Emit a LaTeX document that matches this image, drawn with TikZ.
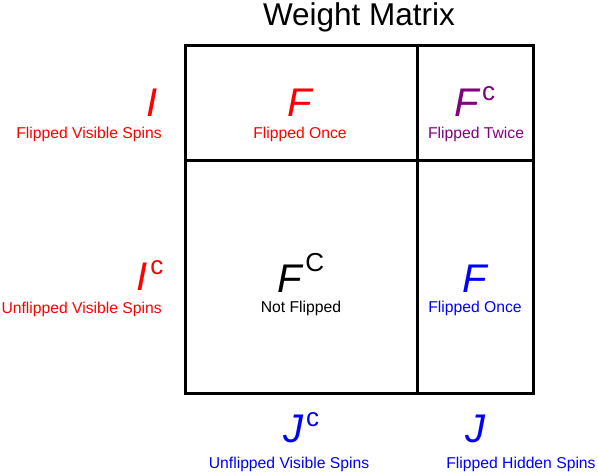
\documentclass[tikz,border=0pt]{standalone}
\usepackage{fontspec}
\setmainfont{Liberation Sans}
\usepackage{tikz}
\usetikzlibrary{positioning}

\definecolor{flipred}{RGB}{255,0,0}
\definecolor{flipblue}{RGB}{0,0,255}
\definecolor{flippurple}{RGB}{128,0,128}
\newcommand{\supc}[2][16pt]{\kern3pt\raisebox{#1}{\fontsize{26}{26}\selectfont\upshape #2}}

\begin{document}
\begin{tikzpicture}[
		x=1pt, y=-1pt,
		grid/.style={line width=3pt},
		big/.style={anchor=base, font=\fontsize{40}{40}\selectfont\itshape},
		small/.style={anchor=base, inner sep=0pt, font=\fontsize{15.7}{16}\selectfont},
		title/.style={anchor=base, inner sep=0pt, font=\fontsize{31.5}{32}\selectfont}]
		\useasboundingbox (0,0) rectangle (598,474);
		% matrix outline
		\coordinate (nw) at (185,45);
		\coordinate (se) at (533,393);
		\coordinate (vt) at (417,45);
		\coordinate (vb) at (417,393);
		\coordinate (hl) at (185,160);
		\coordinate (hr) at (533,160);
		\draw[grid] (nw) rectangle (se);
		\draw[grid] (vt) -- (vb);
		\draw[grid] (hl) -- (hr);
		\node[title] (ttl) at (359,25) {Weight Matrix};
		% rows
		\node[big, anchor=base east, text=flipred] (I) at (161,116) {I};
		\node[small, anchor=base east, text=flipred] (Ilab) at (162,138) {Flipped Visible Spins};
		\node[big, anchor=base east, text=flipred] (Ic) at (167,290) {I\supc{c}};
		\node[small, anchor=base east, text=flipred] (Iclab) at (162,313) {Unflipped Visible Spins};
		% cells
		\node[big, text=flipred] (F1) at (300,116) {F};
		\node[small, text=flipred] (F1lab) at (300,138) {Flipped Once};
		\node[big, text=flippurple] (Fc1) at (475,116) {F\supc{c}};
		\node[small, text=flippurple] (Fc1lab) at (476,138) {Flipped Twice};
		\node[big] (FC) at (301,292) {F\supc[21pt]{C}};
		\node[small] (FClab) at (301,312) {Not Flipped};
		\node[big, text=flipblue] (F2) at (475,292) {F};
		\node[small, text=flipblue] (F2lab) at (475,312) {Flipped Once};
		% columns
		\node[big, text=flipblue] (Jc) at (301,442) {J\supc{c}};
		\node[small, text=flipblue] (Jclab) at (289,468) {Unflipped Visible Spins};
		\node[big, text=flipblue] (J) at (475,442) {J};
		\node[small, text=flipblue] (Jlab) at (521,468) {Flipped Hidden Spins};
\end{tikzpicture}
\end{document}
